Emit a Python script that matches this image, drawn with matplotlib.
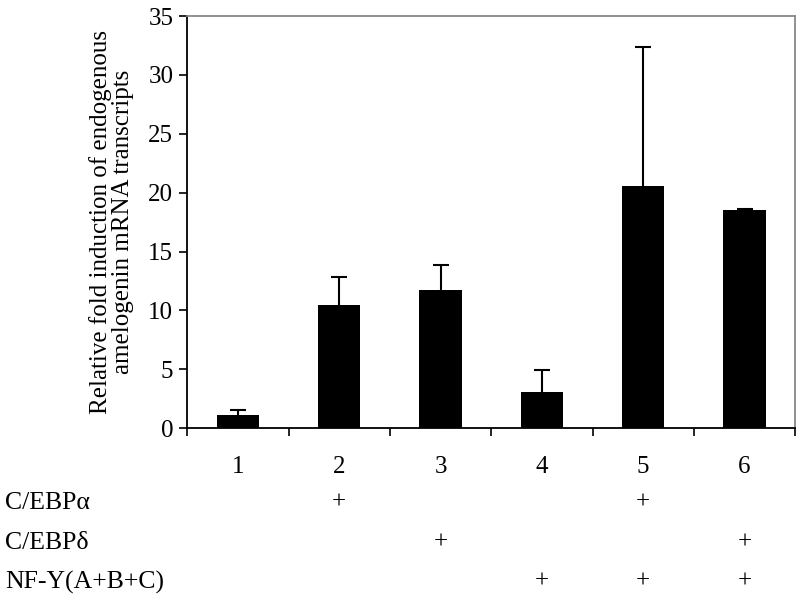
import matplotlib.pyplot as plt
import numpy as np
from matplotlib.transforms import blended_transform_factory

lanes = ["1", "2", "3", "4", "5", "6"]
fold_induction = [1.1, 10.45, 11.7, 3.05, 20.6, 18.5]
error_upper = [0.4, 2.35, 2.15, 1.85, 11.8, 0.12]

row_labels = ["C/EBP\u03b1", "C/EBP\u03b4", "NF-Y(A+B+C)"]
row_marks = [
    [False, True, False, False, True, False],
    [False, False, True, False, False, True],
    [False, False, False, True, True, True],
]

plt.rcParams["font.family"] = ["Liberation Serif", "DejaVu Serif"]

fig = plt.figure(figsize=(8, 5.97), dpi=100)
ax = fig.add_axes([0.234, 0.283, 0.76, 0.69])

x = np.arange(len(lanes))
# symmetric bars, the lower half is hidden behind the black columns
ax.errorbar(x, fold_induction, yerr=error_upper,
            fmt="none", ecolor="black", elinewidth=1.5, capsize=5.8, capthick=1.5, zorder=1)
ax.bar(x, fold_induction, width=0.42, color="black", zorder=2)

ax.set_xlim(-0.5, len(lanes) - 0.5)
ax.set_ylim(0, 35)
ax.set_yticks(range(0, 36, 5))
ax.set_xticks(np.arange(len(lanes) + 1) - 0.5)
ax.set_xticklabels([])
ax.tick_params(axis="both", direction="out", length=6, width=1.2, labelsize=18, colors="black")
ax.tick_params(axis="y", pad=4)

for side in ["left", "bottom"]:
    ax.spines[side].set_color("black")
    ax.spines[side].set_linewidth(1.3)
for side in ["top", "right"]:
    ax.spines[side].set_color("#888888")
    ax.spines[side].set_linewidth(1.3)

ax.set_ylabel("Relative fold induction of endogenous\namelogenin mRNA transcripts",
              fontsize=18, linespacing=1.0, labelpad=10)

# lane numbers and +/- table under the axis
trans = blended_transform_factory(ax.transData, fig.transFigure)
for i, lane in enumerate(lanes):
    ax.text(i, 1 - 467 / 597, lane, transform=trans, ha="center", va="center", fontsize=18)

row_y = [503, 543, 582]
for label, marks, ypix in zip(row_labels, row_marks, row_y):
    fig.text(5 / 800, 1 - ypix / 597, label, ha="left", va="center", fontsize=18.5)
    for i, mark in enumerate(marks):
        if mark:
            ax.text(i, 1 - ypix / 597, "+", transform=trans, ha="center", va="center", fontsize=18)

fig.savefig("out.png", dpi=100)
